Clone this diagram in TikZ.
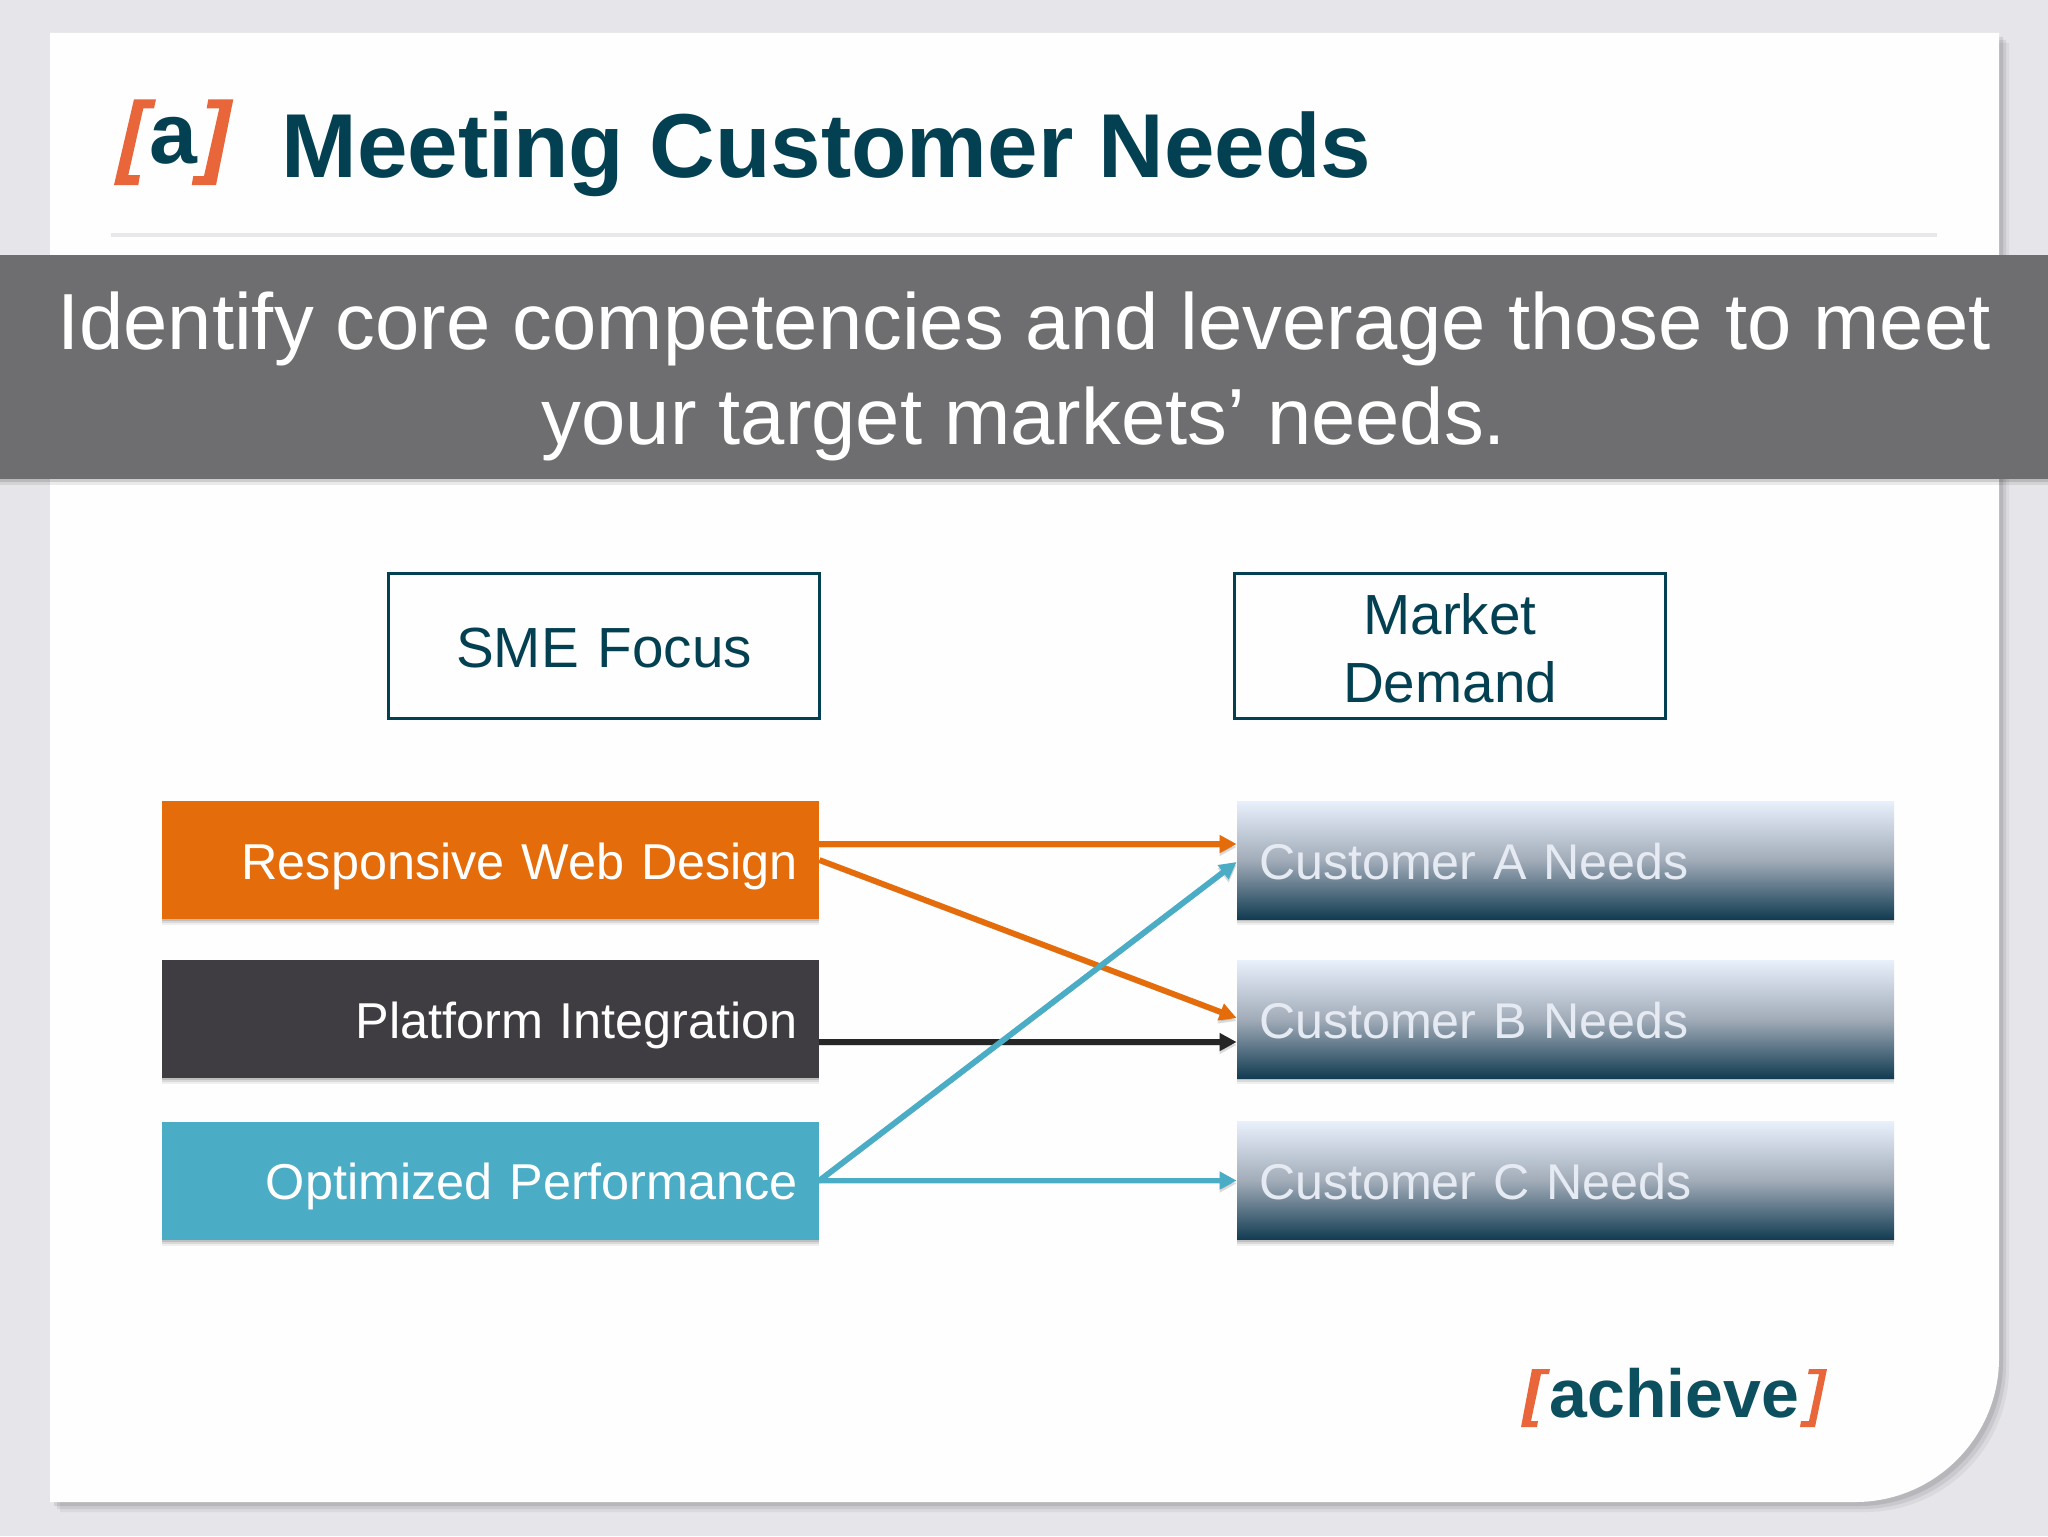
\documentclass[tikz,border=0pt]{standalone}
\usepackage{fontspec}
\setmainfont{Liberation Sans}
\usetikzlibrary{arrows.meta,shadows,calc}
\definecolor{pagebg}{HTML}{E6E5E9}
\definecolor{cardw}{HTML}{FEFEFE}
\definecolor{teal}{HTML}{034052}
\definecolor{achteal}{HTML}{0C4F5E}
\definecolor{bandc}{HTML}{6E6D70}
\definecolor{rulec}{HTML}{E8E8EA}
\definecolor{orng}{HTML}{E46C0A}
\definecolor{dark}{HTML}{3F3D41}
\definecolor{blueb}{HTML}{4BACC6}
\definecolor{logoor}{HTML}{E8663A}
\definecolor{gtop}{HTML}{E8F0FC}
\definecolor{gmid}{HTML}{A2ACB9}
\definecolor{gbot}{HTML}{123C52}
\definecolor{gtext}{HTML}{E6EBF3}
\newcommand{\lowertext}[1]{\raisebox{-1.1pt}[\height][\depth]{#1}}
\tikzset{
  softsh/.style={drop shadow={shadow xshift=0pt,shadow yshift=-3.2pt,opacity=.06,fill=black},
                 drop shadow={shadow xshift=0pt,shadow yshift=-2.2pt,opacity=.09,fill=black},
                 drop shadow={shadow xshift=0pt,shadow yshift=-1.2pt,opacity=.12,fill=black}},
  headbox/.style={draw=teal,line width=1.1pt,fill=cardw,minimum width=215.5pt,minimum height=72.5pt,
     text=teal,font=\fontsize{28.3}{34}\selectfont,align=center,inner sep=0pt,text width=170pt},
  leftbox/.style={softsh,minimum width=328.5pt,minimum height=59pt,inner xsep=10.5pt,inner ysep=0pt,
     text width=307.5pt,text height=25pt,text depth=6pt,align=right,text=white,font=\fontsize{25.2}{30}\selectfont},
  rightbox/.style={softsh,minimum width=328.5pt,minimum height=59pt,inner xsep=11pt,inner ysep=0pt,
     text width=306.5pt,text height=25pt,text depth=6pt,align=left,text=gtext,font=\fontsize{25.1}{30}\selectfont,
     top color=gtop,bottom color=gbot,middle color=gmid},
  conn/.style={line width=2.9pt,-{Triangle[length=8.5pt,width=8.5pt]},
     preaction={draw=black,opacity=.14,transform canvas={yshift=-1.5pt}}},
  logobr/.style={fill=logoor,draw=none},
}
\begin{document}
\begin{tikzpicture}[x=0.5pt,y=-0.5pt]
\useasboundingbox (0,0) rectangle (2048,1536);
\fill[pagebg] (0,0) rectangle (2048,1536);
% card
\path[fill=cardw,
     drop shadow={shadow xshift=5pt,shadow yshift=-5pt,opacity=.05,fill=black},
     drop shadow={shadow xshift=3.5pt,shadow yshift=-3.5pt,opacity=.07,fill=black},
     drop shadow={shadow xshift=2pt,shadow yshift=-2pt,opacity=.09,fill=black}]
  (50,33) -- (1999,33) [rounded corners=72pt] -- (1999,1502) [sharp corners] -- (50,1502) -- cycle;
% header
\draw[rulec,line width=2pt] (111,235) -- (1937,235);
\fill[logobr] (134,99.3) -- (156,99.3) -- (154,108.3) -- (143.3,108.3) -- (128.3,175) -- (140,175) -- (138.3,185) -- (114,185) -- cycle;
\fill[logobr] (208.3,99.3) -- (233.3,99.3) -- (216,185) -- (191.7,185) -- (193.3,176) -- (204,176) -- (219.3,108.3) -- (206.7,108.3) -- cycle;
\node[anchor=base,inner sep=0pt,text=teal,font=\fontsize{43}{43}\selectfont\bfseries] (logoa) at (173,163) {a};
\node[anchor=base west,inner sep=0pt,text=teal,font=\fontsize{45.4}{46}\selectfont\bfseries] (title) at (281,177) {Meeting Customer Needs};
% band
\fill[bandc,drop shadow={shadow xshift=0pt,shadow yshift=-3pt,opacity=.08,fill=black},
  drop shadow={shadow xshift=0pt,shadow yshift=-1.5pt,opacity=.12,fill=black}] (0,255) rectangle (2048,479);
\node[text=white,align=center,inner sep=0pt,font=\fontsize{39.8}{47.8}\selectfont] (band) at (1024,376.5)
  {Identify core competencies and leverage those to meet\\your target markets’ needs.};
% headings
\node[headbox] (sme) at (604,646) {\lowertext{SME Focus}};
\node[headbox] (mkt) at (1450,646) {\lowertext{Market}\\\lowertext{Demand}};
% left
\node[leftbox,fill=orng] (rwd) at (490.5,860) {Responsive Web Design};
\node[leftbox,fill=dark] (pi) at (490.5,1019) {Platform Integration};
\node[leftbox,fill=blueb] (op) at (490.5,1180.5) {Optimized Performance};
% right
\node[rightbox] (ca) at (1565.5,860) {Customer A Needs};
\node[rightbox] (cb) at (1565.5,1019) {Customer B Needs};
\node[rightbox] (cc) at (1565.5,1180.5) {Customer C Needs};
% connectors
\draw[conn,orng] ([yshift=8pt]rwd.east) -- ([yshift=8pt]ca.west);
\draw[conn,orng] (rwd.east) -- ([yshift=0.5pt]cb.west);
\draw[conn,black!85] ([yshift=-11.5pt]pi.east) -- ([yshift=-11.5pt]cb.west);
\draw[conn,blueb] (op.east) -- ([yshift=-1pt]ca.west);
\draw[conn,blueb] (op.east) -- (cc.west);
% footer logo
\fill[logobr] (1532,1369) -- (1550,1369) -- (1549,1374) -- (1541,1374) -- (1531,1421) -- (1538,1421) -- (1537,1427) -- (1521,1427) -- cycle;
\fill[logobr] (1809,1369) -- (1827,1369) -- (1815,1427) -- (1800,1427) -- (1801,1421) -- (1809,1421) -- (1819,1374) -- (1808,1374) -- cycle;
\node[anchor=base west,inner sep=0pt,text=achteal,font=\fontsize{34}{34}\selectfont\bfseries] (ach) at (1549,1417) {achieve};
\end{tikzpicture}
\end{document}
